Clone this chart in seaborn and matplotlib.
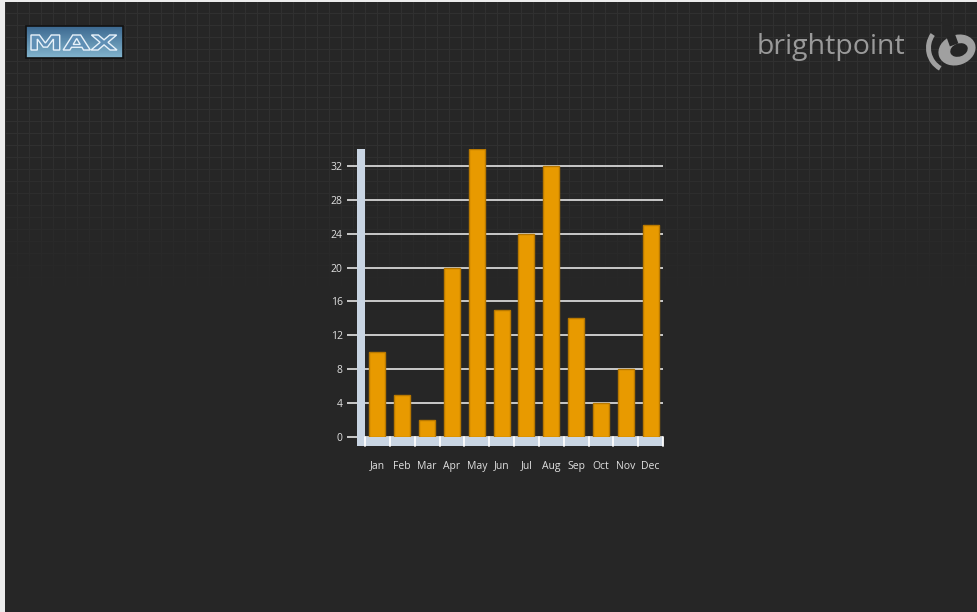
import numpy as np
import pandas as pd
import matplotlib
matplotlib.use("Agg")
import matplotlib.pyplot as plt
import seaborn as sns
from matplotlib.patches import Rectangle, Ellipse, PathPatch, Wedge
from matplotlib.textpath import TextPath
from matplotlib.font_manager import FontProperties
from matplotlib.transforms import Affine2D
import matplotlib.patheffects as pe

# ---- data ----
months = ["Jan", "Feb", "Mar", "Apr", "May", "Jun", "Jul", "Aug", "Sep", "Oct", "Nov", "Dec"]
values = [10, 5, 2, 20, 34, 15, 24, 32, 14, 4, 8, 25]
y_ticks = [0, 4, 8, 12, 16, 20, 24, 28, 32]

sns.set_style("dark")
plt.rcParams["font.family"] = ["Open Sans", "DejaVu Sans"]

W, H = 977, 612
fig = plt.figure(figsize=(W / 100, H / 100), dpi=100)

# ---- background ----
bg = fig.add_axes([0, 0, 1, 1], zorder=-10)
arr = np.full((H, W, 3), 38.0)
yy = np.arange(H)
fade = np.clip((300 - yy) / 150.0, 0, 1)
grid = np.zeros((H, W))
grid[:, 5::12] = 1
grid[1::12, :] = 1
arr += (grid * fade[:, None] * 10)[:, :, None]
arr[:, :5, :] = 236
arr[:2, :, :] = 236
bg.imshow(arr.astype(np.uint8), extent=[0, W, H, 0], aspect="auto", interpolation="nearest")

# MAX logo
grad = np.linspace(0, 1, 32)[:, None, None]
top = np.array([60, 105, 145]) / 255
bot = np.array([130, 180, 205]) / 255
box = np.ones((32, 97, 3)) * (top * (1 - grad) + bot * grad)
bg.imshow(box, extent=[26, 123, 58, 26], aspect="auto", zorder=2)
bg.add_patch(Rectangle((26, 26), 97, 32, fill=False, ec="#111111", lw=1.2, zorder=3))
tp = TextPath((0, 0), "MAX", size=20, prop=FontProperties(family="DejaVu Sans", weight="bold"))
ext = tp.get_extents()
sx = 86 / ext.width
sy = 15 / ext.height
tr = Affine2D().translate(-ext.x0, -ext.y0).scale(sx, -sy).translate(31, 50)
bg.add_patch(PathPatch(tr.transform_path(tp), fc="#5f8fb5", ec="#e8f2fa", lw=1.0, zorder=4))

# brightpoint logo
bg.text(757, 47, "brightpoint", ha="left", va="center", fontsize=20.5, color="#9a9a9a",
        family="Open Sans", zorder=4)
bg.add_patch(Ellipse((957, 50), 38, 30, angle=-20, fc="#a0a0a0", ec="none", zorder=4))
bg.add_patch(Ellipse((959, 50), 18, 13, angle=-20, fc="#262626", ec="none", zorder=5))
bg.add_patch(Rectangle((941, 22), 9, 26, angle=-20, fc="#262626", ec="none", zorder=5))
bg.add_patch(Wedge((952, 48), 26, 120, 215, width=5, fc="#a0a0a0", ec="none", zorder=6))
bg.set_xlim(0, W)
bg.set_ylim(H, 0)
bg.axis("off")

# ---- chart ----
L, R, T, B = 365, 663, 149, 437
ax = fig.add_axes([L / W, 1 - B / H, (R - L) / W, (B - T) / H])
ax.set_facecolor("none")
df = pd.DataFrame({"month": months, "value": values})
sns.barplot(data=df, x="month", y="value", color="#E89A00", width=0.65,
            edgecolor="#b87800", linewidth=1, saturation=1, ax=ax, zorder=3)
ax.set_xlim(-0.5, 11.5)
ax.set_ylim(0, 34)
ax.set_xlabel("")
ax.set_ylabel("")
for s in ax.spines.values():
    s.set_visible(False)

ax.set_yticks(y_ticks)
ax.set_yticks(np.arange(2, 34, 4), minor=True)
ax.yaxis.grid(True, which="major", color="#e4e4e4", lw=1.2)
ax.xaxis.grid(False)
ax.set_axisbelow(True)
ax.tick_params(axis="y", which="major", direction="out", length=13, width=1.2,
               color="#e4e4e4", labelcolor="#e0e0e0", labelsize=7.5, pad=3, left=True)
ax.tick_params(axis="y", which="minor", direction="out", length=5.8, width=1.2,
               color="#f4f4f4", left=True)
ax.tick_params(axis="x", length=0, pad=17, labelcolor="#e0e0e0", labelsize=7.5)

# axis bars
bw = 8 / (R - L)
bh = 9 / (B - T)
ax.add_patch(Rectangle((-bw, -bh), bw, 1 + bh, transform=ax.transAxes,
                       fc="#c9d5e3", ec="none", clip_on=False, zorder=2.4))
ax.add_patch(Rectangle((-bw, -bh), 1 + bw, bh, transform=ax.transAxes,
                       fc="#c9d5e3", ec="none", clip_on=False, zorder=2.4))
xt = ax.get_xaxis_transform()
for k in range(len(months) + 1):
    ax.plot([k - 0.5, k - 0.5], [-bh, 0], transform=xt, color="white", lw=1.3,
            clip_on=False, zorder=2.6)

fig.savefig("out.png", dpi=100)
